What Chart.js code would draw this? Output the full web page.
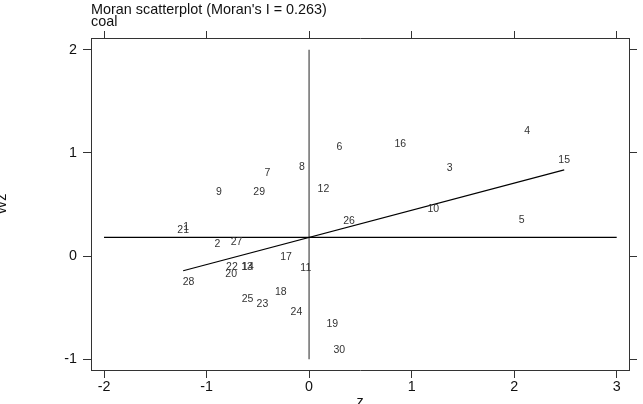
<!DOCTYPE html>
<html>
<head>
<meta charset="utf-8">
<script src="https://cdn.jsdelivr.net/npm/chart.js@4.4.1/dist/chart.umd.min.js"></script>
<style>
html,body{margin:0;padding:0;background:#fff;}
#wrap{width:643px;height:404px;position:relative;}
</style>
</head>
<body>
<div id="wrap"><canvas id="c" width="643" height="404"></canvas></div>
<script>
// ---- data ----
const ids = ["1","2","3","4","5","6","7","8","9","10","11","12","13","14","15","16","17","18","19","20","21","22","23","24","25","26","27","28","29","30"];
const zValues = [-1.199,-0.894,1.371,2.128,2.073,0.295,-0.406,-0.071,-0.880,1.212,-0.032,0.140,-0.605,-0.597,2.488,0.890,-0.224,-0.276,0.227,-0.760,-1.228,-0.753,-0.455,-0.124,-0.601,0.390,-0.708,-1.176,-0.487,0.295];
const wzValues = [0.278,0.113,0.856,1.211,0.349,1.053,0.801,0.865,0.620,0.459,-0.116,0.649,-0.105,-0.109,0.933,1.082,-0.006,-0.346,-0.659,-0.171,0.252,-0.103,-0.465,-0.540,-0.413,0.339,0.136,-0.255,0.617,-0.911];
const moranI = 0.263;
const meanZ = 0.0;
const meanWz = 0.181;
const xTicks = [-2,-1,0,1,2,3];
const yTicks = [-1,0,1,2];
const hLineSpan = [-2,3];
const vLineSpan = [-1,2];
const titleText = "Moran scatterplot (Moran's I = 0.263)";
const subtitleText = "coal";
const xTitle = "z";
const yTitle = "Wz";

// ---- derived ----
const points = zValues.map((z,i)=>({x:z,y:wzValues[i]}));
const zMin = Math.min(...zValues), zMax = Math.max(...zValues);
const intercept = meanWz - moranI*meanZ;
const regLine = [{x:zMin,y:intercept+moranI*zMin},{x:zMax,y:intercept+moranI*zMax}];
const hLine = hLineSpan.map(x=>({x:x,y:meanWz}));
const vLine = vLineSpan.map(y=>({x:meanZ,y:y}));

const FONT = "'Liberation Sans', Arial, sans-serif";
const AXIS_COLOR = '#333';

const labelPlugin = {
  id:'labels',
  afterDatasetsDraw(chart){
    const ctx = chart.ctx;
    const meta = chart.getDatasetMeta(0);
    ctx.save();
    ctx.font = "10.5px " + FONT;
    ctx.fillStyle = '#333';
    ctx.textAlign = 'center';
    ctx.textBaseline = 'middle';
    meta.data.forEach((el,i)=>{ ctx.fillText(ids[i], el.x, el.y); });
    ctx.restore();
  },
  afterDraw(chart){
    const ctx = chart.ctx, ca = chart.chartArea;
    ctx.save();
    ctx.fillStyle = '#111';
    ctx.font = "14.4px " + FONT;
    ctx.textAlign = 'left';
    ctx.textBaseline = 'alphabetic';
    ctx.fillText(titleText, ca.left, 14);
    ctx.fillText(subtitleText, ca.left, 26);
    ctx.textAlign = 'center';
    ctx.fillText(xTitle, (ca.left+ca.right)/2, 406);
    ctx.translate(6, (ca.top+ca.bottom)/2);
    ctx.rotate(-Math.PI/2);
    ctx.textBaseline = 'alphabetic';
    ctx.fillText(yTitle, 0, 0);
    ctx.restore();
  }
};

function setTicks(arr){ return function(scale){ scale.ticks = arr.map(v=>({value:v})); }; }

new Chart(document.getElementById('c'), {
  type:'scatter',
  data:{
    datasets:[
      {data:points, pointRadius:0, pointHoverRadius:0, showLine:false},
      {type:'line', data:regLine, borderColor:'#000', borderWidth:1.2, pointRadius:0, fill:false},
      {type:'line', data:hLine, borderColor:'#000', borderWidth:1.2, pointRadius:0, fill:false},
      {type:'line', data:vLine, borderColor:'#777', borderWidth:1.6, pointRadius:0, fill:false}
    ]
  },
  options:{
    responsive:false,
    animation:false,
    layout:{padding:0},
    plugins:{legend:{display:false}, tooltip:{enabled:false}, title:{display:false}},
    scales:{
      x:{type:'linear', position:'bottom', min:-2.127, max:3.12,
         afterBuildTicks:setTicks(xTicks),
         afterFit(s){ s.height = 34; },
         grid:{drawOnChartArea:false, drawTicks:true, tickLength:8, color:AXIS_COLOR, lineWidth:1},
         border:{display:true, color:AXIS_COLOR, width:1},
         ticks:{color:'#111', font:{family:FONT, size:14.3}, padding:0, maxRotation:0, autoSkip:false}},
      x2:{type:'linear', position:'top', min:-2.127, max:3.12,
         afterBuildTicks:setTicks(xTicks),
         afterFit(s){ s.height = 38; },
         grid:{drawOnChartArea:false, drawTicks:true, tickLength:7, color:AXIS_COLOR, lineWidth:1},
         border:{display:true, color:AXIS_COLOR, width:1},
         ticks:{display:false}},
      y:{type:'linear', position:'left', min:-1.104, max:2.114,
         afterBuildTicks:setTicks(yTicks),
         afterFit(s){ s.width = 91; },
         grid:{drawOnChartArea:false, drawTicks:true, tickLength:8, color:AXIS_COLOR, lineWidth:1},
         border:{display:true, color:AXIS_COLOR, width:1},
         ticks:{color:'#111', font:{family:FONT, size:14.3}, padding:6, autoSkip:false}},
      y2:{type:'linear', position:'right', min:-1.104, max:2.114,
         afterBuildTicks:setTicks(yTicks),
         afterFit(s){ s.width = 14; },
         grid:{drawOnChartArea:false, drawTicks:true, tickLength:8, color:AXIS_COLOR, lineWidth:1},
         border:{display:true, color:AXIS_COLOR, width:1},
         ticks:{display:false}}
    }
  },
  plugins:[labelPlugin]
});
</script>
</body>
</html>
